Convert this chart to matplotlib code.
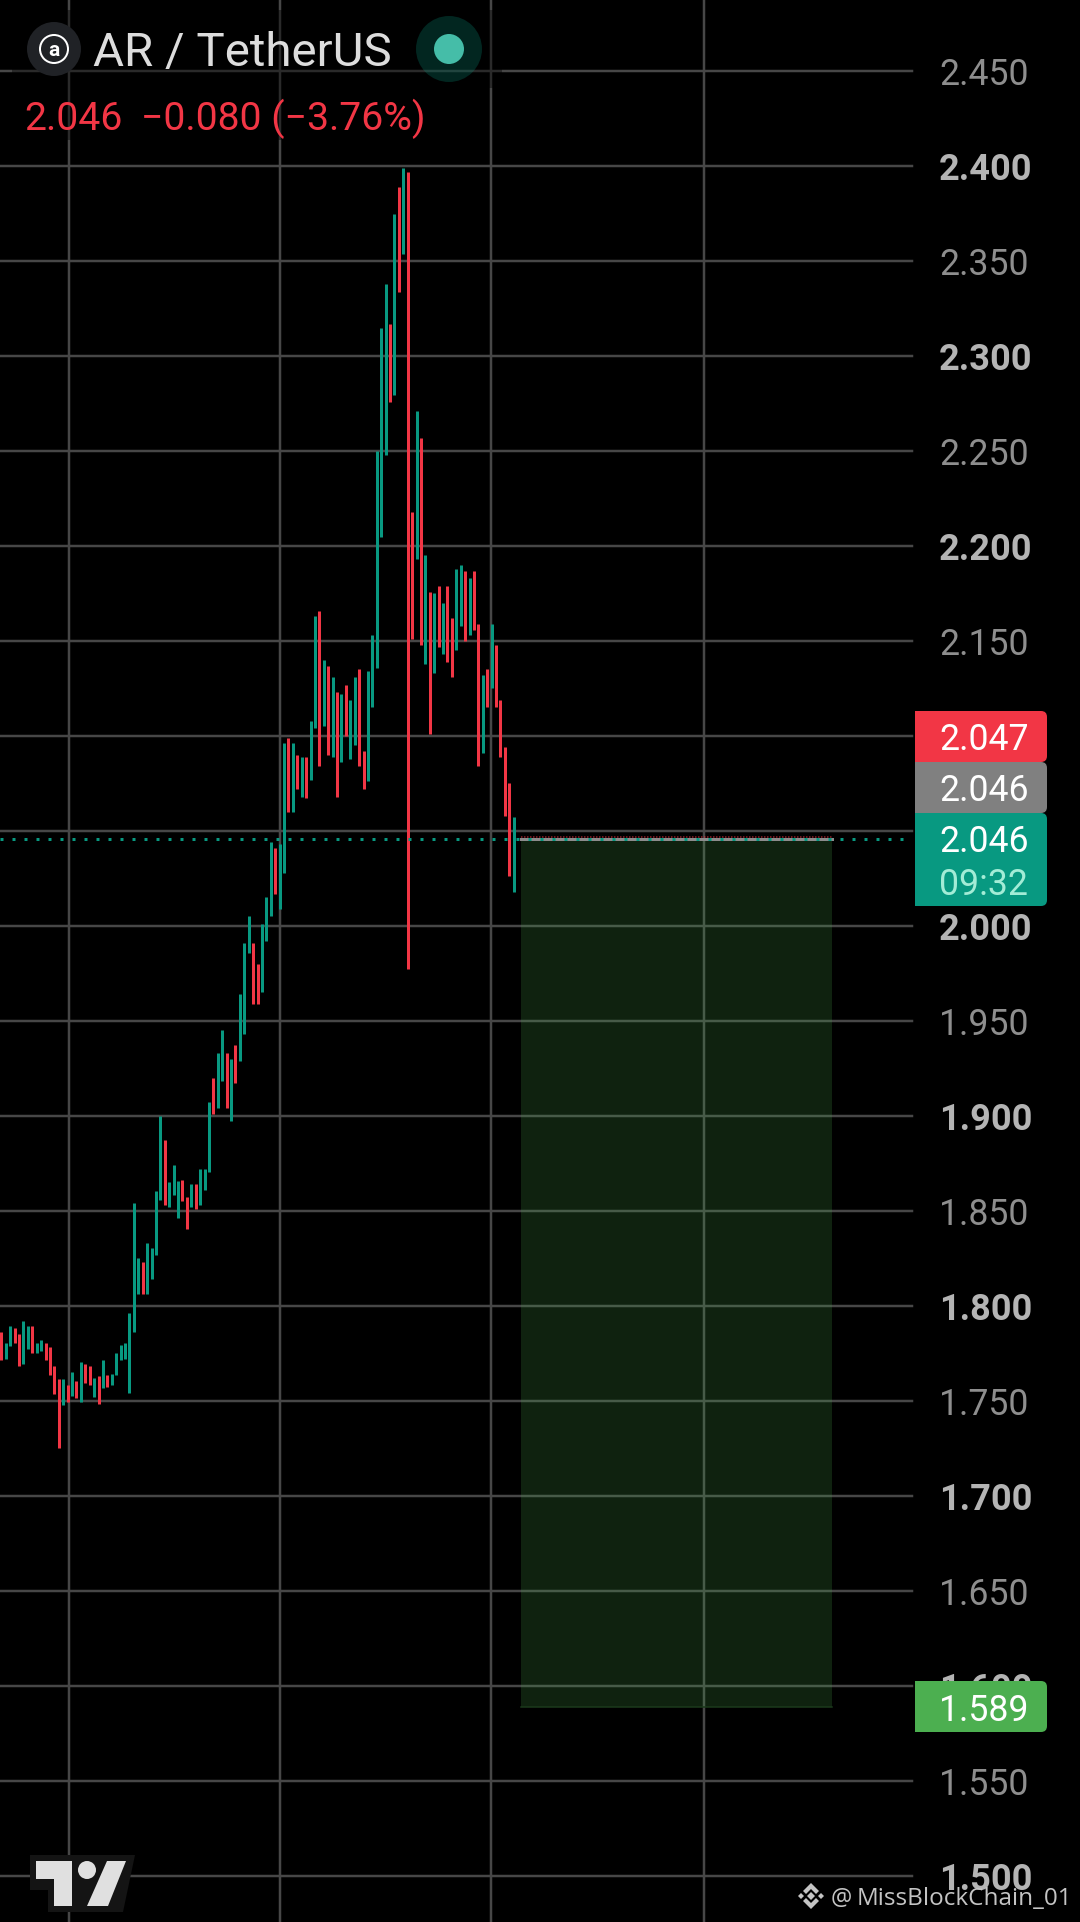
import matplotlib
matplotlib.use('Agg')
import matplotlib.pyplot as plt
from matplotlib.patches import Circle, FancyBboxPatch, Polygon, Rectangle

plt.rcParams['font.family'] = ['Roboto', 'DejaVu Sans']

# candles, left to right
candle_high = [
    1.7865, 1.7807, 1.7897, 1.7886, 1.7855, 1.7923, 1.7897, 1.7897, 1.7807, 1.7823,
    1.7807, 1.7786, 1.7686, 1.7618, 1.7618, 1.7586, 1.7655, 1.7607, 1.7707, 1.7697,
    1.7686, 1.7623, 1.7634, 1.7718, 1.7639, 1.7644, 1.7755, 1.7797, 1.7807, 1.7965,
    1.8544, 1.8255, 1.8233, 1.8333, 1.8307, 1.8607, 1.9000, 1.8875, 1.8654, 1.8744,
    1.8660, 1.8663, 1.8574, 1.8642, 1.8642, 1.8721, 1.8721, 1.9074, 1.9200, 1.9332,
    1.9453, 1.9332, 1.9300, 1.9374, 1.9642, 1.9911, 2.0053, 1.9911, 1.9800, 2.0011,
    2.0153, 2.0442, 2.0411, 2.0432, 2.0963, 2.0990, 2.0963, 2.0900, 2.0890, 2.0890,
    2.1079, 2.1632, 2.1658, 2.1400, 2.1369, 2.1311, 2.1232, 2.1221, 2.1269, 2.1190,
    2.1311, 2.1353, 2.0921, 2.1342, 2.1532, 2.2500, 2.3147, 2.3379, 2.3168, 2.3747,
    2.3889, 2.3989, 2.3968, 2.2179, 2.2711, 2.2568, 2.1953, 2.1758, 2.1753, 2.1790,
    2.1700, 2.1790, 2.1621, 2.1879, 2.1900, 2.1868, 2.1832, 2.1868, 2.1590, 2.1321,
    2.1353, 2.1590, 2.1479, 2.1190, 2.0942, 2.0753, 2.0574,
]
candle_low = [
    1.7718, 1.7723, 1.7792, 1.7807, 1.7686, 1.7697, 1.7776, 1.7755, 1.7755, 1.7765,
    1.7718, 1.7639, 1.7539, 1.7255, 1.7481, 1.7497, 1.7528, 1.7518, 1.7497, 1.7597,
    1.7586, 1.7523, 1.7486, 1.7570, 1.7576, 1.7586, 1.7639, 1.7718, 1.7723, 1.7544,
    1.7865, 1.8065, 1.8065, 1.8065, 1.8144, 1.8270, 1.8560, 1.8533, 1.8523, 1.8586,
    1.8465, 1.8553, 1.8405, 1.8521, 1.8511, 1.8532, 1.8611, 1.8705, 1.9011, 1.9042,
    1.9184, 1.9042, 1.8974, 1.9174, 1.9290, 1.9432, 1.9858, 1.9590, 1.9590, 1.9653,
    1.9921, 2.0053, 2.0168, 2.0090, 2.0279, 2.0600, 2.0600, 2.0721, 2.0679, 2.0674,
    2.0769, 2.1042, 2.0842, 2.1053, 2.0900, 2.0890, 2.0679, 2.0863, 2.1000, 2.0879,
    2.0953, 2.0842, 2.0721, 2.0763, 2.1153, 2.1358, 2.2049, 2.2479, 2.2758, 2.2795,
    2.3337, 2.3537, 1.9774, 2.1511, 2.1932, 2.1479, 2.1379, 2.1011, 2.1332, 2.1469,
    2.1432, 2.1390, 2.1311, 2.1453, 2.1579, 2.1500, 2.1532, 2.1558, 2.0842, 2.0911,
    2.1153, 2.1253, 2.1153, 2.0890, 2.0579, 2.0264, 2.0179,
]
# R falling, G rising
candle_side = (
    'RGGRRGGRGGRRRRGRGRGRRGRGRGGGGGGGRGGGGRGGG'
    'RRGRGGG'
    'RGGRGRGGGRRGGGRG'
    'GRGRGRGGRGRGRGRGGRRGG'
    'GGGRGRGR'
    'RGRGRGRGRRGGRGRRGRGRRRRG'
)

price_ticks = [2.45, 2.40, 2.35, 2.30, 2.25, 2.20, 2.15, 2.10, 2.05, 2.00, 1.95,
               1.90, 1.85, 1.80, 1.75, 1.70, 1.65, 1.60, 1.55, 1.50]
bold_ticks = ['2.400', '2.300', '2.200', '2.100', '2.000', '1.900', '1.800', '1.700', '1.600', '1.500']
# these two sit fully under the price tags
hidden_ticks = ['2.100', '2.050']
time_grid = [15.3, 63.1, 110.9, 159.0]

last_price = 2.046
target_price = 1.589
box_start = 117.65
box_end = 188.06

RED = '#F23645'
TEAL = '#089981'
GRID = '#474747'
W, H = 1080, 1922


def pt(px):
    # pixels to points at dpi 100
    return px * 0.72


fig = plt.figure(figsize=(W / 100, H / 100), dpi=100, facecolor='black')

# price chart: x is candle number, y is price
ax = fig.add_axes([0, 0, 1, 1], facecolor='black')
ax.set_xlim(-0.301, 244.2)
ax.set_ylim(1.47579, 2.48737)
ax.axis('off')
line_end = 912 / W

for v in time_grid:
    ax.axvline(v, color=GRID, lw=pt(2.5), zorder=1)
for v in price_ticks:
    ax.axhline(v, xmin=0, xmax=line_end, color=GRID, lw=pt(2.5), zorder=1)

colors = [RED if s == 'R' else TEAL for s in candle_side]
ax.vlines(range(len(candle_high)), candle_low, candle_high, colors=colors,
          lw=pt(3), capstyle='butt', zorder=3)

# short position box
ax.add_patch(Rectangle((box_start, target_price), box_end - box_start, last_price - target_price,
                       facecolor='#4CAF50', alpha=0.2, edgecolor='none', zorder=2))
ax.plot([box_start, box_end], [target_price, target_price], color='#1c3b1c', lw=pt(1.5), zorder=2)
ax.plot([box_start, box_end], [last_price, last_price], color='#8c8c8c', lw=pt(3), zorder=4)
ax.plot([box_start, box_end], [last_price + 0.001, last_price + 0.001], color=RED, lw=pt(1.5),
        ls=(0, (1, 1)), alpha=0.6, zorder=4)
ax.axhline(last_price, xmin=0, xmax=line_end, color=TEAL, lw=pt(3), ls=(0, (1, 3)), zorder=5)

# everything else sits in pixel coordinates on top
ov = fig.add_axes([0, 0, 1, 1], facecolor='none')
ov.set_xlim(0, W)
ov.set_ylim(H, 0)
ov.axis('off')

# dim panel behind the legend
ov.add_patch(Rectangle((12, 10), 490, 78, facecolor='black', alpha=0.4, edgecolor='none', zorder=1))
ov.add_patch(Rectangle((12, 88), 424, 52, facecolor='black', alpha=0.4, edgecolor='none', zorder=1))

for v in price_ticks:
    label = '%.3f' % v
    y = 166 + (2.40 - v) * 1900
    if label in hidden_ticks:
        continue
    if label in bold_ticks:
        ov.text(939, y, label, color='#b4b4b4', fontsize=26, fontweight='bold', va='center_baseline', zorder=2)
    else:
        ov.text(939, y, label, color='#8e8e8e', fontsize=25.7, va='center_baseline', zorder=2)


def tag(y0, y1, color):
    # left side square, right side rounded
    ov.add_patch(FancyBboxPatch((921, y0 + 6), 120, y1 - y0 - 12, boxstyle='round,pad=6,rounding_size=6',
                                facecolor=color, edgecolor='none', zorder=3))
    ov.add_patch(Rectangle((915, y0), 40, y1 - y0, facecolor=color, edgecolor='none', zorder=3))


tag(711, 762, RED)
tag(762, 813, '#808080')
tag(813, 906, TEAL)
tag(1681, 1732, '#4CAF50')
ov.text(939, 736, '2.047', color='white', fontsize=25.7, va='center_baseline', zorder=4)
ov.text(939, 787, '2.046', color='white', fontsize=25.7, va='center_baseline', zorder=4)
ov.text(939, 838, '2.046', color='white', fontsize=25.7, va='center_baseline', zorder=4)
ov.text(939, 881, '09:32', color='#a3ecd6', fontsize=25.7, va='center_baseline', zorder=4)
ov.text(939, 1707, '1.589', color='white', fontsize=25.7, va='center_baseline', zorder=4)

# legend
ov.add_patch(Circle((54, 49), 27, facecolor='#202226', edgecolor='none', zorder=2))
ov.add_patch(Circle((54, 49), 14, facecolor='none', edgecolor='white', lw=pt(2), zorder=3))
ov.text(54, 49, 'a', color='white', fontsize=15, fontweight='bold', ha='center', va='center_baseline', zorder=3)
ov.text(93, 66, 'AR / TetherUS', color='#dddddd', fontsize=34.2, va='baseline', zorder=3)
ov.add_patch(Circle((449, 49), 33, facecolor=TEAL, alpha=0.25, edgecolor='none', zorder=2))
ov.add_patch(Circle((449, 49), 15, facecolor='#45BDA8', edgecolor='none', zorder=3))
ov.text(24, 130, '2.046', color=RED, fontsize=28.2, va='baseline', zorder=3)
ov.text(141, 130, '\u22120.080 (\u22123.76%)', color=RED, fontsize=28.2, va='baseline', zorder=3)

# TradingView mark
ov.add_patch(Polygon([(30, 1855), (135, 1855), (123, 1912), (48, 1912), (48, 1890), (30, 1890)],
                     facecolor='#141414', edgecolor='none', zorder=2))
logo = '#e0e0e0'
ov.add_patch(Polygon([(36, 1861), (72, 1861), (72, 1906), (54, 1906), (54, 1879), (36, 1879)],
                     facecolor=logo, edgecolor='none', zorder=3))
ov.add_patch(Circle((87, 1870), 9, facecolor=logo, edgecolor='none', zorder=3))
ov.add_patch(Polygon([(107, 1861), (126, 1861), (108, 1906), (87, 1906)],
                     facecolor=logo, edgecolor='none', zorder=3))

# watermark
mark = '#c4c4c4'
for cx, r in [(801, 3), (811, 4), (821, 3)]:
    ov.add_patch(Polygon([(cx, 1896 - r), (cx + r, 1896), (cx, 1896 + r), (cx - r, 1896)],
                         facecolor=mark, edgecolor='none', zorder=5))
for s in [1, -1]:
    ov.add_patch(Polygon([(811, 1896 - 13 * s), (819, 1896 - 5 * s), (816, 1896 - 2 * s), (811, 1896 - 7 * s),
                          (806, 1896 - 2 * s), (803, 1896 - 5 * s)],
                         facecolor=mark, edgecolor='none', zorder=5))
ov.text(831, 1896, '@', color=mark, fontsize=17, family=['Open Sans', 'DejaVu Sans'], va='center_baseline', zorder=5)
ov.text(857, 1896, 'MissBlockChain_01', color=mark, fontsize=17.5, family=['Open Sans', 'DejaVu Sans'],
        va='center_baseline', zorder=5)

fig.savefig('out.png', dpi=100, facecolor='black')
